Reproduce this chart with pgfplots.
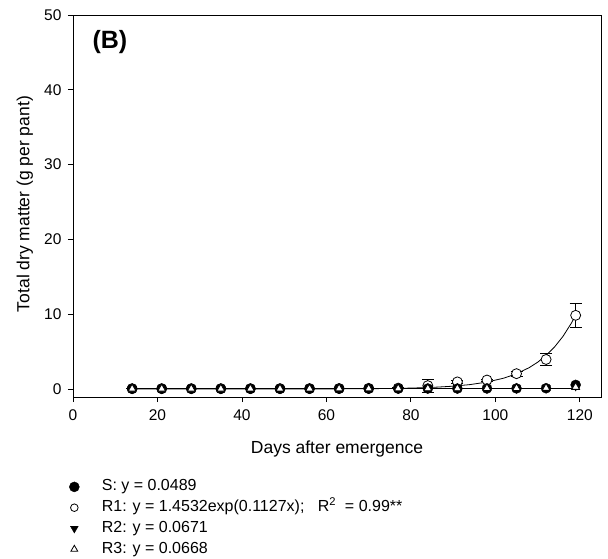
\documentclass[border=0pt]{standalone}
\usepackage{pgfplots}
\pgfplotsset{compat=1.18}
\usepackage{fontspec}
\setmainfont{Liberation Sans}

\begin{document}
\begin{tikzpicture}
\begin{axis}[
  scale only axis, width=528pt, height=382pt,
  xmin=0, xmax=125, ymin=-1.07, ymax=50,
  xtick={0,20,...,120}, ytick={0,10,...,50},
  tick align=outside, major tick length=5pt,
  xtick pos=bottom, ytick pos=left,
  axis line style={line width=0.9pt}, tick style={line width=0.9pt,black},
  tick label style={font=\fontsize{15.5}{17}\selectfont},
  xticklabel style={yshift=-4pt},
  yticklabel style={xshift=-3pt},
  /pgf/number format/assume math mode=true,
  every axis x label/.style={at={(axis description cs:0.5,-0.136)},anchor=center},
  every axis y label/.style={at={(axis description cs:-0.091,0.505)},rotate=90,anchor=center},
  label style={font=\fontsize{17.5}{19}\selectfont},
  xlabel={Days after emergence},
  ylabel={Total dry matter (g per pant)},
  legend style={at={(axis description cs:-0.013,-0.206)},anchor=north west,draw=none,fill=none,
    font=\fontsize{16}{18}\selectfont, row sep=2.8pt,
    nodes={text height=11.5pt,text depth=3.5pt,inner sep=1.5pt}},
  legend cell align=left,
  legend image code/.code={\draw[#1] plot coordinates {(0pt,0pt)};},
  /tikz/every odd column/.style={column sep=21pt},
]
% regression lines
\addplot[black,line width=1pt,forget plot] coordinates {(14,0.0489)(119,0.0489)};
\addplot[black,line width=1pt,forget plot] coordinates {(14,0.0671)(119,0.0671)};
\addplot[black,line width=1pt,forget plot] coordinates {(14,0.0668)(119,0.0668)};
\addplot[black,line width=0.8pt,forget plot] coordinates {
(14,0.0001)(30,0.0004)(50,0.0041)(60,0.0128)(70,0.0394)(75,0.0693)(80,0.1218)(85,0.2139)
(90,0.3759)(94,0.590)(98,0.926)(102,1.453)(105,2.038)(108,2.857)(110,3.579)(112,4.484)
(114,5.618)(116,7.038)(118,8.818)(119,9.87)};
% R1 with error bars
\addplot[only marks,mark=*,mark size=5pt,mark options={fill=white,draw=black,line width=0.8pt},forget plot,
  error bars/.cd, y dir=both, y explicit,
  error bar style={line width=0.8pt,black},
  error mark options={rotate=90,mark size=6pt,line width=0.8pt,black}]
  coordinates {
(14,0.05) +- (0,0.02) (21,0.05) +- (0,0.02) (28,0.05) +- (0,0.02) (35,0.05) +- (0,0.02)
(42,0.05) +- (0,0.02) (49,0.05) +- (0,0.02) (56,0.06) +- (0,0.02) (63,0.07) +- (0,0.02)
(70,0.09) +- (0,0.03) (77,0.12) +- (0,0.05) (84,0.45) +- (0,0.85) (91,0.95) +- (0,0.15)
(98,1.2) +- (0,0.15) (105,2.05) +- (0,0.3) (112,3.95) +- (0,0.85) (119,9.85) +- (0,1.65)};
% S
\addplot[only marks,mark=*,mark size=5pt,mark options={fill=black,draw=black},forget plot] coordinates {
(14,0.03)(21,0.03)(28,0.03)(35,0.03)(42,0.03)(49,0.03)(56,0.03)(63,0.04)
(70,0.04)(77,0.05)(84,0.06)(91,0.06)(98,0.07)(105,0.08)(112,0.1)(119,0.55)};
% R2
\addplot[only marks,mark=triangle*,mark size=5pt,mark options={fill=black,draw=black,rotate=180},forget plot] coordinates {
(14,0.03)(21,0.03)(28,0.03)(35,0.03)(42,0.04)(49,0.04)(56,0.04)(63,0.05)
(70,0.05)(77,0.06)(84,0.07)(91,0.08)(98,0.09)(105,0.1)(112,0.12)(119,0.4)};
% R3
\addplot[only marks,mark=triangle*,mark size=4.5pt,mark options={fill=white,draw=black,line width=0.8pt},forget plot] coordinates {
(14,0.03)(21,0.03)(28,0.03)(35,0.03)(42,0.04)(49,0.04)(56,0.04)(63,0.05)
(70,0.05)(77,0.06)(84,0.07)(91,0.08)(98,0.09)(105,0.1)(112,0.12)(119,0.25)};
% legend entries
\addlegendimage{only marks,mark=*,mark size=5pt,mark options={fill=black,draw=black}}
\addlegendentry{S: y = 0.0489}
\addlegendimage{only marks,mark=*,mark size=3.8pt,mark options={fill=white,draw=black,line width=0.8pt}}
\addlegendentry{R1: y = 1.4532exp(0.1127x);~~~R\textsuperscript{2}~~= 0.99**}
\addlegendimage{only marks,mark=triangle*,mark size=4.5pt,mark options={fill=black,draw=black,rotate=180}}
\addlegendentry{R2: y = 0.0671}
\addlegendimage{only marks,mark=triangle*,mark size=4pt,mark options={fill=white,draw=black,line width=0.8pt}}
\addlegendentry{R3: y = 0.0668}
\node[font=\fontsize{25}{27}\selectfont\bfseries] at (axis description cs:0.07,0.929) {(B)};
\end{axis}
\pgfresetboundingbox
\path (-73pt,-161pt) rectangle (535pt,397pt);
\end{tikzpicture}
\end{document}
